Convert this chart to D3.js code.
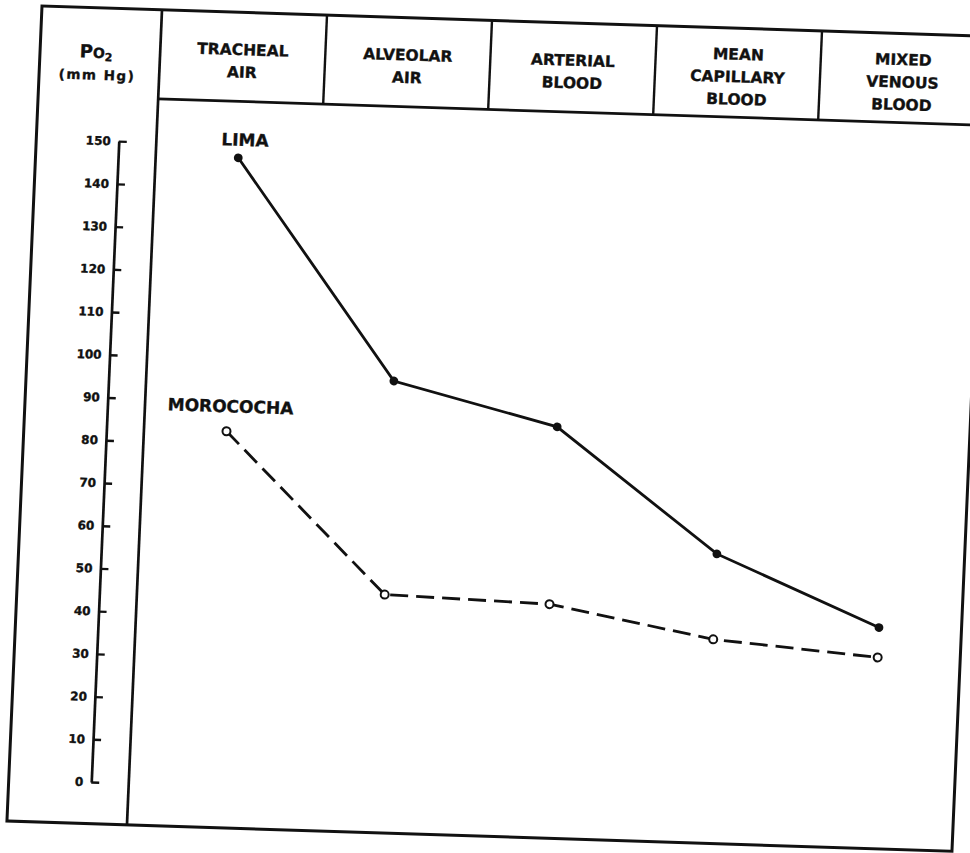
<!DOCTYPE html>
<html><head><meta charset="utf-8">
<script src="https://cdn.jsdelivr.net/npm/d3@7"></script>
<style>
body{margin:0;background:#fff;}
text{font-family:"DejaVu Sans",sans-serif;font-weight:bold;fill:#111;stroke:#111;stroke-width:0.35px;}
</style>
</head><body>
<svg id="chart" width="970" height="853"></svg>
<script>
// ---- data ----
const categories = [
  ["TRACHEAL","AIR"],
  ["ALVEOLAR","AIR"],
  ["ARTERIAL","BLOOD"],
  ["MEAN","CAPILLARY","BLOOD"],
  ["MIXED","VENOUS","BLOOD"]
];
const seriesNames = ["LIMA","MOROCOCHA"];
const limaValues = [147, 96, 86.5, 58, 42];
const morocochaValues = [83, 46, 45, 38, 35];
const yTicks = [0,10,20,30,40,50,60,70,80,90,100,110,120,130,140,150];
const yLabel = ["PO","2","(mm Hg)"];

// ---- layout (local, unskewed frame) ----
const W = 945, H = 815, leftCol = 120, headerH = 89;
const svg = d3.select("#chart");
// the scanned page is slightly skewed
const g = svg.append("g").attr("transform","matrix(1,0.032,-0.043,1,42,6)");

const x = d3.scaleBand().domain(d3.range(categories.length)).range([leftCol, W]).padding(0);
const xc = i => x(i) + x.bandwidth()/2;
const y = d3.scaleLinear().domain([0,150]).range([773.4, 132.5]);

const ink = "#111";
// frame
g.append("rect").attr("x",0).attr("y",0).attr("width",W).attr("height",H)
  .attr("fill","none").attr("stroke",ink).attr("stroke-width",3);
g.append("line").attr("x1",leftCol).attr("x2",leftCol).attr("y1",0).attr("y2",H)
  .attr("stroke",ink).attr("stroke-width",2.7);
g.append("line").attr("x1",leftCol).attr("x2",W).attr("y1",headerH).attr("y2",headerH)
  .attr("stroke",ink).attr("stroke-width",2.7);
g.selectAll("line.coldiv").data(d3.range(1,categories.length)).join("line")
  .attr("class","coldiv")
  .attr("x1",d=>x(d)).attr("x2",d=>x(d)).attr("y1",0).attr("y2",headerH)
  .attr("stroke",ink).attr("stroke-width",2.4);

// header labels
const lineGap = 22.5, headMid = 48.5;
categories.forEach((lines,i)=>{
  const t = g.append("text").attr("text-anchor","middle").style("font-size","15.5px");
  lines.forEach((ln,k)=>{
    t.append("tspan").attr("x",xc(i))
      .attr("y", headMid + (k-(lines.length-1)/2)*lineGap + 5.5)
      .text(ln);
  });
});

// y label
const yl = g.append("text").attr("x",56).attr("y",50).attr("text-anchor","middle");
yl.append("tspan").style("font-size","18px").text(yLabel[0][0]);
yl.append("tspan").style("font-size","14px").text(yLabel[0][1]);
yl.append("tspan").style("font-size","11px").attr("dy",3).text(yLabel[1]);
g.append("text").attr("x",58).attr("y",72).attr("text-anchor","middle")
  .style("font-size","13.5px").style("letter-spacing","1.5px").text(yLabel[2]);

// y axis
const axis = d3.axisLeft(y).tickValues(yTicks).tickSizeInner(-8).tickSizeOuter(0).tickPadding(8);
const ag = g.append("g").attr("transform","translate(82.5,0)").call(axis);
ag.select(".domain").attr("stroke",ink).attr("stroke-width",2.7);
ag.selectAll(".tick line").attr("stroke",ink).attr("stroke-width",2.4);
ag.selectAll(".tick text").attr("fill",ink).attr("stroke",ink).attr("stroke-width",0.35)
  .style("font-family","DejaVu Sans, sans-serif").style("font-weight","bold").style("font-size","12px");

// lines
const line = d3.line().x((d,i)=>xc(i)).y(d=>y(d));
g.append("path").datum(limaValues).attr("d",line)
  .attr("fill","none").attr("stroke",ink).attr("stroke-width",2.8);
g.append("path").datum(morocochaValues).attr("d",line)
  .attr("fill","none").attr("stroke",ink).attr("stroke-width",2.8)
  .attr("stroke-dasharray","18,8");

g.selectAll("circle.lima").data(limaValues).join("circle").attr("class","lima")
  .attr("cx",(d,i)=>xc(i)).attr("cy",d=>y(d)).attr("r",4.4).attr("fill",ink);
g.selectAll("circle.moro").data(morocochaValues).join("circle").attr("class","moro")
  .attr("cx",(d,i)=>xc(i)).attr("cy",d=>y(d)).attr("r",4).attr("fill","#fff")
  .attr("stroke",ink).attr("stroke-width",2);

// series labels
g.append("text").attr("x",xc(0)+6).attr("y",y(limaValues[0])-12)
  .attr("text-anchor","middle").style("font-size","17px").text(seriesNames[0]);
g.append("text").attr("x",xc(0)+3).attr("y",y(morocochaValues[0])-19)
  .attr("text-anchor","middle").style("font-size","17px").text(seriesNames[1]);
</script>
</body></html>
